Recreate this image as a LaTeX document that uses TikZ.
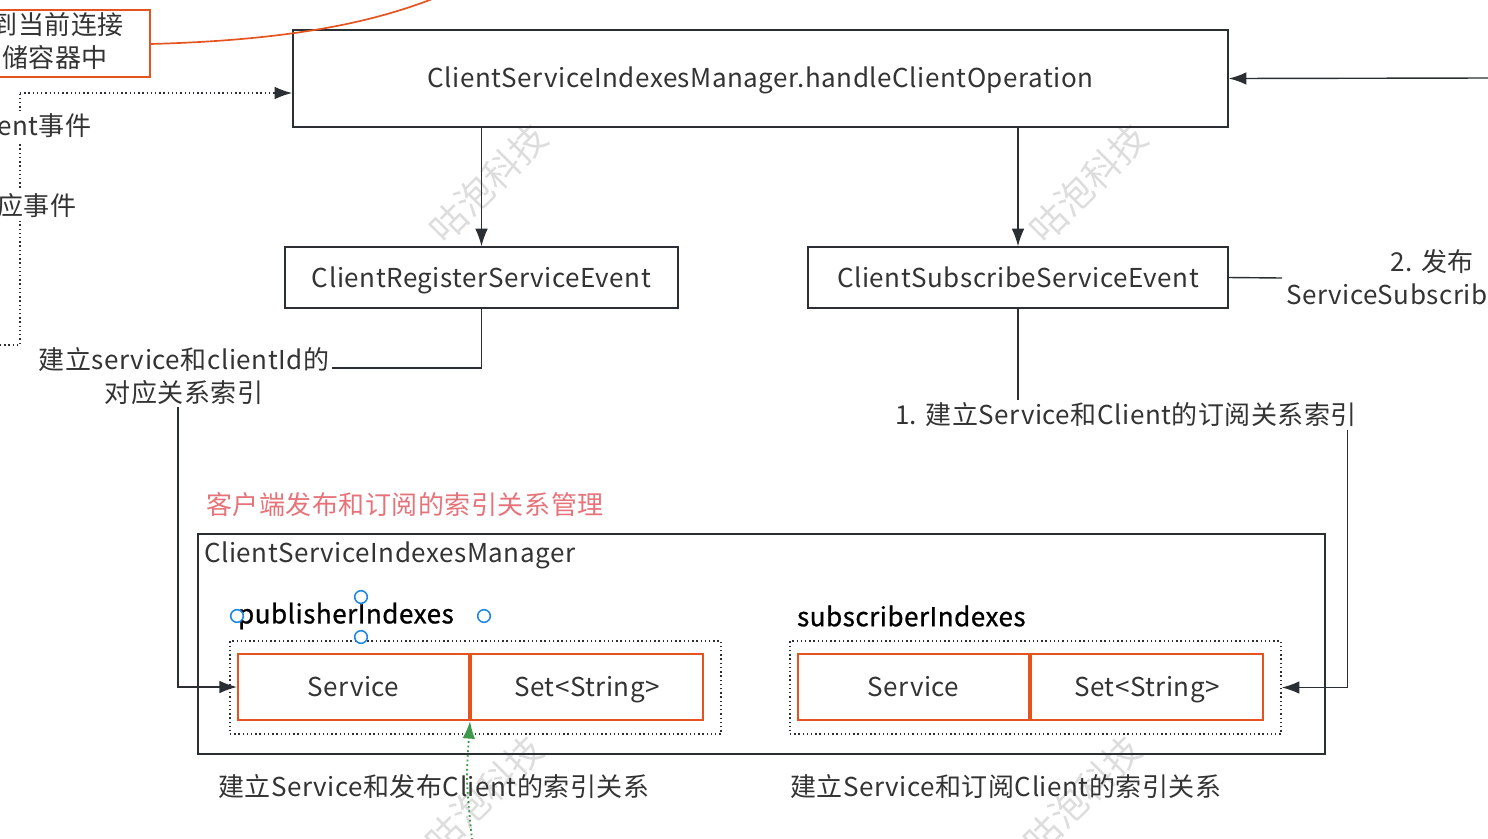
\documentclass[tikz,border=0pt]{standalone}
\usepackage{fontspec}
\setmainfont{Noto Sans CJK SC}[LetterSpace=2]
\newfontfamily\semib{Noto Sans CJK SC}[FakeBold=0.9, LetterSpace=2]
\usepackage{xcolor}
\usetikzlibrary{positioning,arrows.meta,calc}
\definecolor{lineC}{HTML}{2B2F33}
\definecolor{txtC}{HTML}{333333}
\definecolor{cellC}{HTML}{E5531E}
\definecolor{noteC}{HTML}{E7737A}
\definecolor{markC}{HTML}{DDDDDD}
\definecolor{handleC}{HTML}{1E88E5}
\definecolor{greenC}{HTML}{3C9A4A}

\begin{document}
\begin{tikzpicture}[
    x=0.025cm, y=-0.025cm,
    txt/.style={font=\fontsize{18.5}{23}\selectfont, text=txtC, inner sep=2pt},
    box/.style={txt, rectangle, draw=lineC, line width=1pt, minimum height=1.525cm, text height=13.5pt, text depth=0pt},
    cell/.style={txt, rectangle, draw=cellC, line width=1.4pt, minimum height=1.65cm, text height=14pt, text depth=0pt},
    dotbox/.style={rectangle, draw=lineC, line width=1pt, dotted, minimum width=12.275cm, minimum height=2.325cm},
    arr/.style={draw=lineC, line width=1pt, -{Latex[length=12.5pt, width=9pt]}},
    conn/.style={draw=lineC, line width=1pt},
    wmark/.style={font=\fontsize{26}{26}\selectfont, text=markC, rotate=45},
    handle/.style={circle, draw=handleC, line width=1.1pt, fill=white, minimum size=9pt, inner sep=0pt}
]
    \useasboundingbox (0,0) rectangle (1488,838);
    \clip (0,0) rectangle (1488,838);

    % watermarks
    \node[wmark] (wm1) at (488,183) {咕泡科技};
    \node[wmark] (wm2) at (1088,183) {咕泡科技};
    \node[wmark] (wm3) at (484,795) {咕泡科技};
    \node[wmark] (wm4) at (1082,795) {咕泡科技};

    % main method box
    \node[box, minimum width=23.375cm, minimum height=2.425cm] (top) at (760.5,78.5) {ClientServiceIndexesManager.handleClientOperation};

    % event boxes
    \node[box, minimum width=9.825cm] (reg) at (481.5,277.5) {ClientRegisterServiceEvent};
    \node[box, minimum width=10.5cm] (sub) at (1018,277.5) {ClientSubscribeServiceEvent};

    \draw[arr] (reg.north |- top.south) -- (reg.north);
    \draw[arr] (sub.north |- top.south) -- (sub.north);

    % incoming call from the right
    \coordinate (rin) at (1488,78);
    \draw[arr] (rin) -- (top.east);

    % note box on the left (cut off)
    \draw[cellC, line width=1.4pt] (-10,10) rectangle (150,77);
    \node[txt, anchor=east] (nt1) at (127,25) {到当前连接};
    \node[txt, anchor=east] (nt2) at (111,58) {存储容器中};
    \coordinate (cv) at (440,-4);
    \draw[cellC, line width=1.2pt] (150,44) .. controls (300,40) and (380,20) .. (cv);

    % dotted event path on the left
    \coordinate (din) at (0,345);
    \coordinate (dup) at (20,93);
    \draw[draw=lineC, line width=1pt, dotted] (din) -| (dup);
    \draw[draw=lineC, line width=1pt, dotted, -{Latex[length=12.5pt, width=9pt]}] (dup) -- (dup -| top.west);
    \node[txt, anchor=west, fill=white, inner xsep=0pt] (ev1) at (-3,126) {ent事件};
    \node[txt, anchor=west, fill=white, inner xsep=0pt] (ev2) at (-3,206) {应事件};

    % publish label to the right (cut off)
    \coordinate (pubend) at (1282,278);
    \draw[conn] (sub.east) -- (pubend);
    \node[txt, anchor=east] (pub1) at (1477,262) {2. 发布};
    \node[txt, anchor=west] (pub2) at (1283,294) {ServiceSubscrib};

    % index manager
    \node[txt, text=noteC, anchor=west] (note) at (203,505) {客户端发布和订阅的索引关系管理};
    \node[rectangle, draw=lineC, line width=1pt, minimum width=28.175cm, minimum height=5.5cm] (mgr) at (761.5,644) {};
    \node[txt, anchor=west] (mgrname) at (201,555) {ClientServiceIndexesManager};

    \node[txt, anchor=west, text=black] (pubname) at (235,616) {\semib publisherIndexes};
    \node[txt, anchor=west, text=black] (subname) at (794,616) {\semib subscriberIndexes};

    \node[dotbox] (pubdot) at (475.5,687.5) {};
    \node[cell, minimum width=5.775cm] (pubsvc) at (353.5,687) {Service};
    \node[cell, minimum width=5.8cm, right=0pt of pubsvc] (pubset) {Set<String>};

    \node[dotbox] (subdot) at (1035.5,687.5) {};
    \node[cell, minimum width=5.775cm] (subsvc) at (913.5,687) {Service};
    \node[cell, minimum width=5.8cm, right=0pt of subsvc] (subset) {Set<String>};

    \node[txt, anchor=west] (cap1) at (215,787) {建立Service和发布Client的索引关系};
    \node[txt, anchor=west] (cap2) at (787,787) {建立Service和订阅Client的索引关系};

    % register path
    \node[txt, align=center] (lbl1) at (184,376) {建立service和clientId的\\对应关系索引};
    \draw[conn] (reg.south) |- ([yshift=5.7pt]lbl1.east);
    \draw[arr] ([xshift=-4.3pt]lbl1.south) |- (pubsvc.west);

    % subscribe path
    \node[txt] (lbl2) at (1126,415) {1. 建立Service和Client的订阅关系索引};
    \draw[conn] (sub.south) -- (sub.south |- lbl2.north);
    \draw[arr] ([xshift=-9pt]lbl2.south east) |- (subdot.east);

    % green dotted link
    \coordinate (gin) at (472,840);
    \draw[greenC, line width=1.3pt, dotted, -{Latex[length=12.5pt, width=9pt]}] (gin) .. controls (466,780) .. (pubsvc.south east);

    % selection handles
    \node[handle] (h1) at (361,597) {};
    \node[handle] (h2) at (237,616) {};
    \node[handle] (h3) at (484,616) {};
    \node[handle] (h4) at (361,637) {};
\end{tikzpicture}
\end{document}
